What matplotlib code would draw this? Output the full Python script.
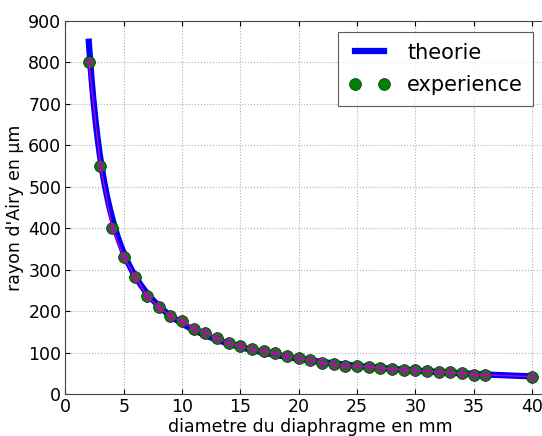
import matplotlib
matplotlib.use('Agg')
import matplotlib.pyplot as plt
import numpy as np

# diametre du diaphragme (mm) et rayon d'Airy mesure (um)
diam = [2, 3, 4, 5, 6, 7, 8, 9, 10, 11, 12, 13, 14, 15, 16, 17, 18, 19, 20,
        21, 22, 23, 24, 25, 26, 27, 28, 29, 30, 31, 32, 33, 34, 35, 36, 40]
rayon = [800, 550, 400, 330, 282, 236, 210, 188, 175, 158, 148, 134, 124,
         116, 108, 104, 98, 92, 86, 81, 76, 72, 68, 67, 66, 63, 60, 59, 57,
         55, 53, 52, 51, 47, 46, 42]
err_d = 0.25
err_r = 10

# theorie : r = k / d
k_theo = 1700
d_theo = np.linspace(2, 40, 400)
r_theo = k_theo / d_theo

fig = plt.figure(figsize=(5.42, 4.36), dpi=100)
ax = fig.add_axes([0.1208, 0.0963, 0.9037, 0.8555])

ax.plot(d_theo, r_theo, color='blue', lw=4.5, label='theorie', zorder=2)
ax.plot(diam, rayon, 'o', color='green', ms=8.5, mec='#003300', mew=0.5,
        label='experience', zorder=3)
ax.errorbar(diam, rayon, xerr=err_d, yerr=err_r, fmt='-', color='m',
            lw=1, capsize=1.5, zorder=4)

ax.set_xlim(0, 42)
ax.set_ylim(0, 900)
ax.set_xticks(np.arange(0, 45, 5))
ax.set_yticks(np.arange(0, 1000, 100))
ax.grid(True, color='#b0b0b0', linestyle=':', lw=0.8)
ax.tick_params(direction='in', top=True, right=True, labelsize=12.5, pad=3)
for s in ax.spines.values():
    s.set_color('#444444')

ax.set_xlabel('diametre du diaphragme en mm', fontsize=12.5, labelpad=1.5)
ax.set_ylabel("rayon d'Airy en µm", fontsize=12.5, labelpad=3)

leg = ax.legend(loc='upper right', numpoints=2, fontsize=15, fancybox=False,
                bbox_to_anchor=(0.9555, 0.97), borderaxespad=0,
                handlelength=2.0, handletextpad=0.8, borderpad=0.5,
                labelspacing=0.6)
leg.get_frame().set_edgecolor('#333333')
leg.get_frame().set_linewidth(0.8)

plt.savefig('out.png', dpi=100)
